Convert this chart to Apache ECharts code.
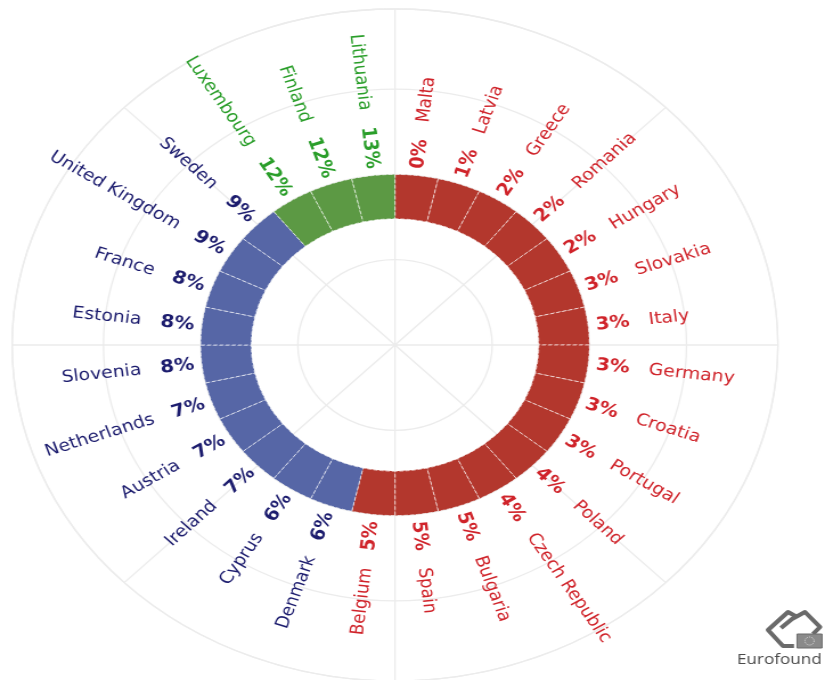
<!DOCTYPE html>
<html><head><meta charset="utf-8">
<script src="https://cdn.jsdelivr.net/npm/echarts@6/dist/echarts.min.js"></script>
<style>
html,body{margin:0;padding:0;background:#fff;overflow:hidden;width:825px;height:680px}
#chart{width:724px;height:680px;transform:scaleX(1.1395);transform-origin:0 0}
</style></head><body><div id="chart"></div>
<script>
const countries = ['Malta','Latvia','Greece','Romania','Hungary','Slovakia','Italy','Germany','Croatia','Portugal','Poland','Czech Republic','Bulgaria','Spain','Belgium','Denmark','Cyprus','Ireland','Austria','Netherlands','Slovenia','Estonia','France','United Kingdom','Sweden','Luxembourg','Finland','Lithuania'];
const shares = [0,1,2,2,2,3,3,3,3,3,4,4,5,5,5,6,6,7,7,7,8,8,8,9,9,12,12,13];
const gridAngles = [0,45,90,135,180,225,270,315];
const radiusTicks = [1,2,3];

const S = 825/724;
const ringInner = 1.48, ringOuter = 2.0, labelR = 2.08, rMax = 3.94;
const palette = {
  low:  {bar:'#B3372D', text:'#D0232A'},
  mid:  {bar:'#5666A6', text:'#1C1C6E'},
  high: {bar:'#5C9944', text:'#2A9E2A'}
};
function groupOf(v){ return v >= 12 ? palette.high : (v >= 6 ? palette.mid : palette.low); }

const chart = echarts.init(document.getElementById('chart'), null, {renderer:'canvas'});
const center = [395/S, 345];
const gridCol = '#ececec';

const option = {
  animation:false,
  backgroundColor:'#fff',
  polar:[
    {center:center, radius:336},
    {center:center, radius:336}
  ],
  angleAxis:[
    {polarIndex:0, type:'value', min:0, max:360, interval:45, startAngle:90, clockwise:true,
     axisLine:{show:true, lineStyle:{color:gridCol, width:1.3}},
     axisTick:{show:false}, axisLabel:{show:false},
     splitLine:{show:true, lineStyle:{color:gridCol, width:1.3}}},
    {polarIndex:1, type:'category', data:countries, startAngle:90, clockwise:true,
     axisLine:{show:false}, axisTick:{show:false}, axisLabel:{show:false}, splitLine:{show:false}}
  ],
  radiusAxis:[
    {polarIndex:0, type:'value', min:0, max:rMax, interval:1,
     axisLine:{show:false}, axisTick:{show:false}, axisLabel:{show:false},
     splitLine:{show:true, lineStyle:{color:gridCol, width:1.3}}},
    {polarIndex:1, type:'value', min:0, max:rMax,
     axisLine:{show:false}, axisTick:{show:false}, axisLabel:{show:false}, splitLine:{show:false}}
  ],
  series:[
    {type:'bar', coordinateSystem:'polar', polarIndex:1, stack:'ring', silent:true,
     barCategoryGap:'0%', data: countries.map(()=>ringInner),
     itemStyle:{color:'rgba(0,0,0,0)'}},
    {type:'bar', coordinateSystem:'polar', polarIndex:1, stack:'ring', silent:true,
     barCategoryGap:'0%',
     data: shares.map(v=>({value:ringOuter-ringInner, itemStyle:{color:groupOf(v).bar}})),
     itemStyle:{borderColor:'rgba(255,255,255,0.7)', borderWidth:0.9, borderType:'dashed'}},
    {type:'custom', coordinateSystem:'polar', polarIndex:1, silent:true,
     data: countries.map((c,i)=>[labelR, i]),
     renderItem:function(params, api){
       const i = params.dataIndex;
       const p = api.coord([labelR, i]);
       const c = api.coord([0, i]);
       const dx = p[0]-c[0], dy = p[1]-c[1];
       const phi = Math.atan2(-dy, dx);
       const right = dx > 0.01;
       const col = groupOf(shares[i]).text;
       const pct = shares[i] + '%';
       return {
         type:'text', x:p[0], y:p[1], rotation: right ? phi : phi + Math.PI,
         style:{
           text: right ? '{p|'+pct+'}{n|'+countries[i]+'}' : '{n|'+countries[i]+'}{q|'+pct+'}',
           align: right ? 'left' : 'right', verticalAlign:'middle',
           fill: col, fontFamily:'DejaVu Sans', fontSize:16.5,
           rich:{
             p:{fill:col, fontFamily:'DejaVu Sans', fontWeight:'bold', fontSize:17.5, padding:[0,17,0,0]},
             q:{fill:col, fontFamily:'DejaVu Sans', fontWeight:'bold', fontSize:17.5, padding:[0,0,0,17]},
             n:{fill:col, fontFamily:'DejaVu Sans', fontSize:16.5}
           }
         }
       };
     }}
  ],
  graphic:[
    {type:'polyline', shape:{points:[[797/S,617],[788/S,612],[768/S,630],[783/S,646],[794/S,646]]},
     style:{stroke:'#6a6a6a', lineWidth:4, fill:null, lineJoin:'round'}},
    {type:'polyline', shape:{points:[[781/S,628],[792/S,619],[805/S,612],[820/S,627],[813/S,634]]},
     style:{stroke:'#6a6a6a', lineWidth:4, fill:null, lineJoin:'round'}},
    {type:'rect', shape:{x:797/S, y:634, width:25/S, height:14},
     style:{fill:'#8a8a8a', stroke:'#6a6a6a', lineWidth:1}},
    {type:'circle', shape:{cx:809.5/S, cy:641, r:4},
     style:{fill:null, stroke:'#dddddd', lineWidth:1, lineDash:[1,1]}},
    {type:'text', x:737/S, y:660,
     style:{text:'Eurofound', fill:'#4a4a4a', fontFamily:'Open Sans', fontSize:15, verticalAlign:'middle'}}
  ]
};
chart.setOption(option);
</script></body></html>
